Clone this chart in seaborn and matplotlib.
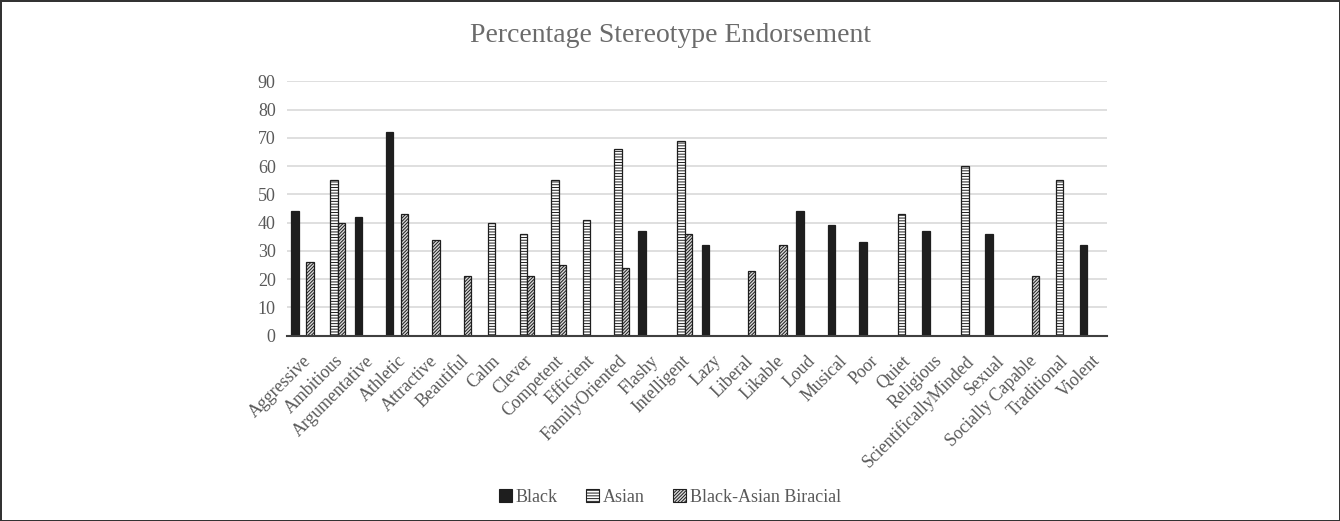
import matplotlib
matplotlib.use("Agg")
import matplotlib.pyplot as plt
import matplotlib.patches as mpatches
import seaborn as sns
import pandas as pd

categories = ["Aggressive", "Ambitious", "Argumentative", "Athletic", "Attractive",
              "Beautiful", "Calm", "Clever", "Competent", "Efficient",
              "FamilyOriented", "Flashy", "Intelligent", "Lazy", "Liberal",
              "Likable", "Loud", "Musical", "Poor", "Quiet", "Religious",
              "ScientificallyMinded", "Sexual", "Socially Capable", "Traditional",
              "Violent"]
black = [44, 0, 42, 72, 0, 0, 0, 0, 0, 0, 0, 37, 0, 32, 0, 0, 44, 39, 33, 0, 37, 0, 36, 0, 0, 32]
asian = [0, 55, 0, 0, 0, 0, 40, 36, 55, 41, 66, 0, 69, 0, 0, 0, 0, 0, 0, 43, 0, 60, 0, 0, 55, 0]
biracial = [26, 40, 0, 43, 34, 21, 0, 21, 25, 0, 24, 0, 36, 0, 23, 32, 0, 0, 0, 0, 0, 0, 0, 21, 0, 0]
series = ["Black", "Asian", "Black-Asian Biracial"]
yticks = list(range(0, 100, 10))

rows = []
for name, vals in zip(series, [black, asian, biracial]):
    for c, v in zip(categories, vals):
        rows.append({"Trait": c, "Group": name, "Value": v})
df = pd.DataFrame(rows)

sns.set_style("white")
plt.rcParams["font.family"] = ["Liberation Serif", "DejaVu Serif"]
plt.rcParams["hatch.linewidth"] = 0.7

gray = "#595959"
fig = plt.figure(figsize=(13.4, 5.21), dpi=100)
ax = fig.add_axes([0.214, 0.3557, 0.612, 0.4883])

face = {"Black": "#1e1e1e", "Asian": "white", "Black-Asian Biracial": "#d8d8d8"}
hatches = {"Black": "", "Asian": "------", "Black-Asian Biracial": "//////////"}

sns.barplot(data=df, x="Trait", y="Value", hue="Group", order=categories,
            hue_order=series, palette=face, width=0.7, ax=ax, legend=False,
            edgecolor="#1e1e1e", linewidth=0.9)

for cont, name in zip(ax.containers, series):
    for p in cont:
        p.set_facecolor(face[name])
        p.set_hatch(hatches[name])
        p.set_edgecolor("#1e1e1e")
        if p.get_height() == 0:
            p.set_linewidth(0)

ax.set_ylim(0, 90)
ax.set_xlim(-0.5, len(categories) - 0.5)
ax.set_yticks(yticks)
ax.set_yticklabels([str(t) for t in yticks], color=gray, fontsize=13)
ax.yaxis.grid(True, color="#d9d9d9", linewidth=1.2)
ax.set_axisbelow(True)
for s in ["left", "right", "top"]:
    ax.spines[s].set_visible(False)
ax.spines["bottom"].set_color("#404040")
ax.spines["bottom"].set_linewidth(1.5)
ax.tick_params(axis="y", length=0, pad=8)
ax.tick_params(axis="x", length=0, pad=12)
ax.set_xticks(range(len(categories)))
ax.set_xticklabels(categories, rotation=45, ha="right", rotation_mode="anchor",
                   color=gray, fontsize=12.8)
ax.set_xlabel("")
ax.set_ylabel("")

fig.text(0.5, 0.932, "Percentage Stereotype Endorsement", ha="center", va="center",
         fontsize=20, color="#6b6b6b")

handles = [mpatches.Patch(facecolor=face[n], hatch=hatches[n], edgecolor="#1e1e1e",
                          linewidth=0.8, label=n) for n in series]
fig.legend(handles=handles, loc="center", bbox_to_anchor=(0.5, 0.045), ncol=3,
           frameon=False, fontsize=13, handlelength=0.7, handleheight=0.7,
           handletextpad=0.2, columnspacing=1.6, labelcolor=gray)

fig.patch.set_edgecolor("#333333")
fig.patch.set_linewidth(2)
fig.savefig("out.png", dpi=100, edgecolor=fig.get_edgecolor())
